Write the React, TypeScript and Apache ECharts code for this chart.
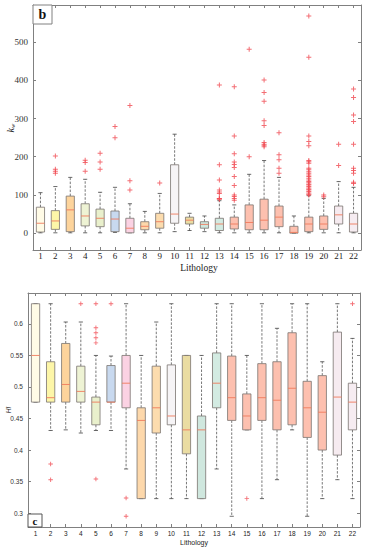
import React, { useEffect, useRef } from 'react';
import * as echarts from 'echarts';

const lithology = ['1','2','3','4','5','6','7','8','9','10','11','12','13','14','15','16','17','18','19','20','21','22'];

// Panel b: k_w box statistics
const kwLow =    [1, 1, 1, 1, 1, 2, 1, 1, 1, 4, 7, 4, 1, 1, 1, 1, 1, 0, 1, 1, 1, 1];
const kwQ1 =     [3, 10, 4, 19, 17, 4, 1, 9, 13, 26, 24, 13, 7, 11, 9, 9, 17, 0, 4, 10, 24, 3];
const kwMedian = [26, 32, 61, 45, 39, 37, 13, 18, 30, 50, 34, 23, 24, 24, 28, 34, 42, 2, 24, 24, 48, 24];
const kwQ3 =     [68, 59, 97, 77, 63, 58, 39, 30, 52, 179, 42, 30, 39, 42, 74, 89, 71, 18, 42, 45, 71, 52];
const kwHigh =   [106, 122, 146, 141, 107, 120, 77, 57, 104, 259, 52, 45, 85, 74, 154, 190, 146, 45, 98, 91, 135, 120];
const kwOutliers: number[][] = [
  [],
  [202, 167, 162, 157],
  [],
  [191, 185, 162],
  [209, 186, 167],
  [279, 250],
  [334, 137, 113],
  [],
  [131],
  [],
  [],
  [],
  [388, 179, 139, 113, 108, 104, 91, 90, 89],
  [383, 254, 208, 186, 180, 172, 148, 125, 100, 96, 91, 86],
  [481, 200],
  [401, 368, 345, 294, 282, 237, 233, 230, 226],
  [263, 205, 192, 170, 157],
  [],
  [568, 460, 254, 240, 229, 190, 187, 183, 170, 166, 161, 157, 152, 148, 144, 139, 135, 132, 128, 126, 122, 118, 115, 113, 109, 105, 102, 100],
  [100, 95],
  [233, 177],
  [377, 355, 309, 292, 233, 170, 164, 157, 133, 130],
];
const kwTicks = [0, 100, 200, 300, 400, 500];

// Panel c: HI box statistics
const hiLow =    [0.476, 0.431, 0.432, 0.427, 0.431, 0.431, 0.370, 0.323, 0.323, 0.323, 0.323, 0.323, 0.370, 0.295, 0.432, 0.323, 0.353, 0.432, 0.295, 0.323, 0.353, 0.323];
const hiQ1 =     [0.476, 0.476, 0.476, 0.476, 0.440, 0.476, 0.467, 0.323, 0.427, 0.440, 0.394, 0.323, 0.467, 0.447, 0.432, 0.447, 0.432, 0.440, 0.420, 0.400, 0.392, 0.432];
const hiMedian = [0.550, 0.483, 0.504, 0.493, 0.476, 0.476, 0.506, 0.447, 0.467, 0.454, 0.432, 0.432, 0.506, 0.483, 0.454, 0.483, 0.479, 0.498, 0.467, 0.460, 0.484, 0.476];
const hiQ3 =     [0.632, 0.540, 0.569, 0.533, 0.484, 0.534, 0.550, 0.467, 0.533, 0.535, 0.550, 0.454, 0.554, 0.549, 0.489, 0.537, 0.540, 0.586, 0.509, 0.518, 0.587, 0.506];
const hiHigh =   [0.632, 0.632, 0.603, 0.603, 0.550, 0.549, 0.632, 0.550, 0.603, 0.632, 0.550, 0.550, 0.632, 0.632, 0.550, 0.632, 0.593, 0.632, 0.632, 0.540, 0.632, 0.577];
const hiOutliers: number[][] = [
  [],
  [0.378, 0.353],
  [],
  [0.632],
  [0.632, 0.594, 0.586, 0.578, 0.570, 0.354],
  [0.632],
  [0.324, 0.295],
  [], [], [], [], [], [], [],
  [0.323],
  [], [], [], [], [], [],
  [0.632],
];
const hiTicks = [0.3, 0.35, 0.4, 0.45, 0.5, 0.55, 0.6];

const boxColors = [
  '#fffbe6', '#fdf6a8', '#fdd49c', '#eef3d4', '#e9f0cc', '#c8d9ef', '#fbd2e3', '#fdd8ab',
  '#fcdcae', '#f6f4f6', '#eadca2', '#cfe7de', '#d3ebe2', '#fdc0af', '#fdc0af', '#fdc0af',
  '#fdc0af', '#fdc0af', '#fdc0af', '#fdc0af', '#f6ebf0', '#f6ecf1',
];

const FRAME = '#808080';
const PLUS = 'path://M4,0H6V4H10V6H6V10H4V6H0V4H4Z';

function makeRender() {
  return (params: any, api: any) => {
    const i = api.value(0);
    const pLow = api.coord([i, api.value(1)]);
    const pQ1 = api.coord([i, api.value(2)]);
    const pMed = api.coord([i, api.value(3)]);
    const pQ3 = api.coord([i, api.value(4)]);
    const pHigh = api.coord([i, api.value(5)]);
    const bw = api.size([1, 0])[0] * 0.55;
    const cx = pMed[0];
    const half = bw / 2;
    const cap = bw / 4;
    const dash = { stroke: '#555', lineWidth: 0.8, lineDash: [2.5, 1.5], fill: null };
    const solid = { stroke: '#444', lineWidth: 0.8, fill: null };
    return {
      type: 'group',
      children: [
        { type: 'line', shape: { x1: cx, y1: pQ3[1], x2: cx, y2: pHigh[1] }, style: dash },
        { type: 'line', shape: { x1: cx, y1: pQ1[1], x2: cx, y2: pLow[1] }, style: dash },
        { type: 'line', shape: { x1: cx - cap, y1: pHigh[1], x2: cx + cap, y2: pHigh[1] }, style: solid },
        { type: 'line', shape: { x1: cx - cap, y1: pLow[1], x2: cx + cap, y2: pLow[1] }, style: solid },
        {
          type: 'rect',
          shape: { x: cx - half, y: pQ3[1], width: bw, height: Math.max(pQ1[1] - pQ3[1], 0.5) },
          style: { fill: boxColors[i], stroke: '#7a7470', lineWidth: 0.8 },
        },
        { type: 'line', shape: { x1: cx - half, y1: pMed[1], x2: cx + half, y2: pMed[1] }, style: { stroke: '#ef7a5c', lineWidth: 0.9 } },
      ],
    };
  };
}

function boxRows(low: number[], q1: number[], med: number[], q3: number[], high: number[]) {
  return lithology.map((_, i) => [i, low[i], q1[i], med[i], q3[i], high[i]]);
}
function outlierRows(out: number[][]) {
  const rows: number[][] = [];
  out.forEach((arr, i) => arr.forEach((v) => rows.push([i, v])));
  return rows;
}

export default function App() {
  const ref = useRef<HTMLDivElement>(null);
  useEffect(() => {
    if (!ref.current) return;
    const chart = echarts.init(ref.current, undefined, { renderer: 'svg' });
    const serif = 'Liberation Serif, Times New Roman, serif';
    const sans = 'Liberation Sans, Arial, sans-serif';
    const catAxis = (grid: number, pos: 'bottom' | 'top', font: string, size: number, show: boolean, margin: number) => ({
      type: 'category',
      gridIndex: grid,
      position: pos,
      data: lithology,
      boundaryGap: true,
      axisLine: { show: true, onZero: false, lineStyle: { color: FRAME, width: 1 } },
      axisTick: { show: true, alignWithLabel: true, inside: true, length: 3, lineStyle: { color: FRAME } },
      axisLabel: { show, fontFamily: font, fontSize: size, color: '#222', margin },
      splitLine: { show: false },
    });
    const valAxis = (grid: number, pos: 'left' | 'right', min: number, max: number, ticks: number[], font: string, size: number, show: boolean, margin: number) => ({
      type: 'value',
      gridIndex: grid,
      position: pos,
      min,
      max,
      axisLine: { show: true, onZero: false, lineStyle: { color: FRAME, width: 1 } },
      axisTick: { show: true, inside: true, length: 3, customValues: ticks, lineStyle: { color: FRAME } },
      axisLabel: { show, customValues: ticks, fontFamily: font, fontSize: size, color: '#333', margin },
      splitLine: { show: false },
    });
    chart.setOption({
      animation: false,
      grid: [
        { left: 33, top: 5, width: 328, height: 245 },
        { left: 28, top: 293, width: 332, height: 234 },
      ],
      xAxis: [
        catAxis(0, 'bottom', serif, 9, true, 1.5),
        catAxis(0, 'top', serif, 9, false, 2),
        catAxis(1, 'bottom', sans, 6.5, true, 2.5),
        catAxis(1, 'top', sans, 6.5, false, 2),
      ],
      yAxis: [
        valAxis(0, 'left', -44, 597, kwTicks, serif, 9, true, 5),
        valAxis(0, 'right', -44, 597, kwTicks, serif, 9, false, 5),
        valAxis(1, 'left', 0.278, 0.649, hiTicks, sans, 6.5, true, 5),
        valAxis(1, 'right', 0.278, 0.649, hiTicks, sans, 6.5, false, 5),
      ],
      series: [
        {
          type: 'custom',
          xAxisIndex: 0,
          yAxisIndex: 0,
          renderItem: makeRender(),
          encode: { x: 0, y: [1, 2, 3, 4, 5] },
          data: boxRows(kwLow, kwQ1, kwMedian, kwQ3, kwHigh),
          z: 2,
        },
        {
          type: 'scatter',
          xAxisIndex: 0,
          yAxisIndex: 0,
          symbol: PLUS,
          symbolSize: 5,
          itemStyle: { color: '#f04850' },
          data: outlierRows(kwOutliers),
          z: 3,
        },
        {
          type: 'custom',
          xAxisIndex: 2,
          yAxisIndex: 2,
          renderItem: makeRender(),
          encode: { x: 0, y: [1, 2, 3, 4, 5] },
          data: boxRows(hiLow, hiQ1, hiMedian, hiQ3, hiHigh),
          z: 2,
        },
        {
          type: 'scatter',
          xAxisIndex: 2,
          yAxisIndex: 2,
          symbol: PLUS,
          symbolSize: 4.5,
          itemStyle: { color: '#f04850' },
          data: outlierRows(hiOutliers),
          z: 3,
        },
      ],
      graphic: [
        { type: 'rect', shape: { x: 33, y: 5, width: 19, height: 19 }, style: { fill: '#fff', stroke: FRAME, lineWidth: 1 }, z: 10 },
        { type: 'text', x: 42.5, y: 14.5, style: { text: 'b', font: 'bold 14px Liberation Serif, serif', fill: '#111', align: 'center', verticalAlign: 'middle' }, z: 11 },
        {
          type: 'text', x: 10, y: 128, rotation: Math.PI / 2,
          style: {
            text: '{k|k}{w|w}', align: 'center', verticalAlign: 'middle',
            rich: {
              k: { fontFamily: 'Liberation Serif, serif', fontStyle: 'italic', fontSize: 10, fill: '#222' },
              w: { fontFamily: 'Liberation Serif, serif', fontStyle: 'italic', fontSize: 6.5, fill: '#222', padding: [5, 0, 0, 0] },
            },
          },
        },
        { type: 'text', x: 199, y: 268, style: { text: 'Lithology', font: '9.5px Liberation Serif, serif', fill: '#222', align: 'center', verticalAlign: 'middle' } },
        { type: 'rect', shape: { x: 28, y: 514, width: 14, height: 13 }, style: { fill: '#fff', stroke: '#555', lineWidth: 1 }, z: 10 },
        { type: 'text', x: 35, y: 520.5, style: { text: 'c', font: 'bold 11px Liberation Serif, serif', fill: '#111', align: 'center', verticalAlign: 'middle' }, z: 11 },
        { type: 'text', x: 8, y: 410, rotation: Math.PI / 2, style: { text: 'HI', font: 'italic 6.5px Liberation Sans, sans-serif', fill: '#222', align: 'center', verticalAlign: 'middle' } },
        { type: 'text', x: 194, y: 542, style: { text: 'Lithology', font: '7px Liberation Sans, sans-serif', fill: '#222', align: 'center', verticalAlign: 'middle' } },
      ],
    });
    return () => chart.dispose();
  }, []);
  return <div ref={ref} style={{ position: 'absolute', left: 0, top: 0, width: 367, height: 550 }} />;
}
